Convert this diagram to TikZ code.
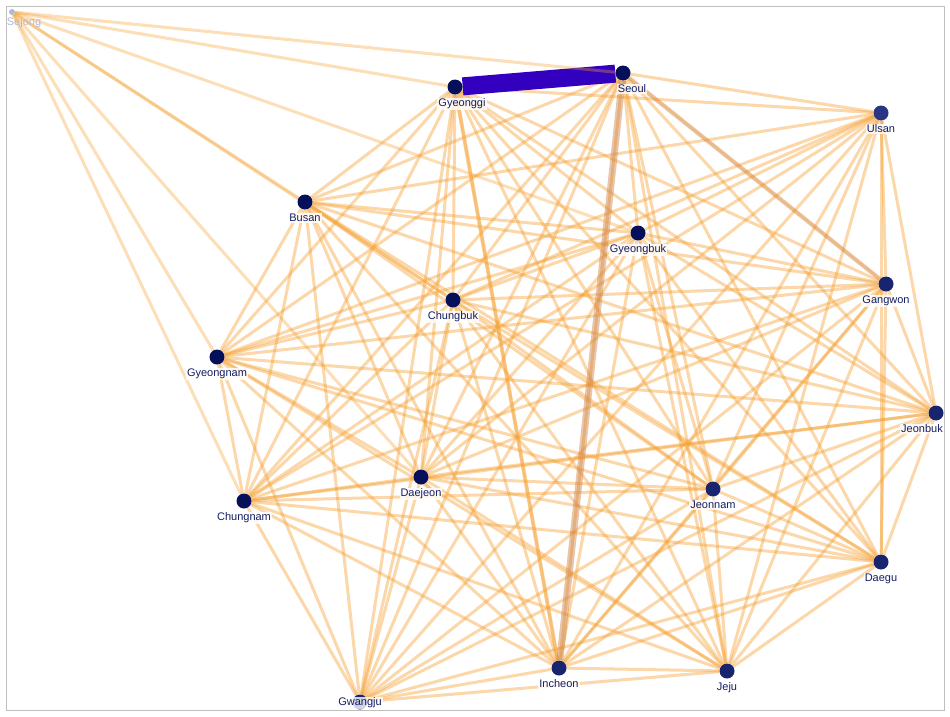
\documentclass[tikz,border=0pt]{standalone}
\usepackage{fontspec}
\setmainfont{Liberation Sans}
\usepackage{tikz}
\usetikzlibrary{backgrounds}
\definecolor{navy}{RGB}{6,16,90}
\definecolor{navymid}{RGB}{24,36,110}
\definecolor{navylight}{RGB}{42,54,130}
\definecolor{labelblue}{RGB}{20,30,100}
\definecolor{linkorange}{RGB}{245,160,50}
\definecolor{linktan}{RGB}{200,120,60}
\definecolor{linkblue}{RGB}{50,0,190}
\definecolor{sejonggray}{RGB}{180,185,210}
\newcommand{\regions}{gyeonggi,seoul,ulsan,busan,gyeongbuk,chungbuk,gangwon,gyeongnam,jeonbuk,daejeon,jeonnam,chungnam,daegu,incheon,jeju,gwangju}

\begin{document}
\begin{tikzpicture}[x=1pt,y=-1pt,
    main node/.style={circle,fill=navy,inner sep=0pt,minimum size=15pt},
    small node/.style={circle,fill=sejonggray,inner sep=0pt,minimum size=6pt},
    every label/.style={font=\fontsize{11}{13}\selectfont,text=labelblue,fill=white,fill opacity=0.8,text opacity=1,inner sep=1pt},
    label distance=3pt,
    link/.style={draw=linkorange,draw opacity=0.42,line width=3pt}]
  \useasboundingbox (0,0) rectangle (950,716);
  \draw[black!25] (6,6) rectangle (944,710);
  \node[small node] (sejong) at (12,12) {};
  \node[text=sejonggray,font=\fontsize{11}{13}\selectfont,inner sep=1pt] (sejonglbl) at (24,23) {Sejong};
  \node[main node,label={[xshift=7pt]below:Gyeonggi}] (gyeonggi) at (455,87) {};
  \node[main node,label={[xshift=9pt]below:Seoul}] (seoul) at (623,73) {};
  \node[main node,fill=navylight,label=below:Ulsan] (ulsan) at (881,113) {};
  \node[main node,label=below:Busan] (busan) at (305,202) {};
  \node[main node,label=below:Gyeongbuk] (gyeongbuk) at (638,233) {};
  \node[main node,label=below:Chungbuk] (chungbuk) at (453,300) {};
  \node[main node,fill=navymid,label=below:Gangwon] (gangwon) at (886,284) {};
  \node[main node,label=below:Gyeongnam] (gyeongnam) at (217,357) {};
  \node[main node,fill=navymid,label={[xshift=-14pt]below:Jeonbuk}] (jeonbuk) at (936,413) {};
  \node[main node,label=below:Daejeon] (daejeon) at (421,477) {};
  \node[main node,fill=navymid,label=below:Jeonnam] (jeonnam) at (713,489) {};
  \node[main node,label=below:Chungnam] (chungnam) at (244,501) {};
  \node[main node,fill=navymid,label=below:Daegu] (daegu) at (881,562) {};
  \node[main node,fill=navymid,label=below:Incheon] (incheon) at (559,668) {};
  \node[main node,fill=navymid,label=below:Jeju] (jeju) at (727,671) {};
  \node[main node,fill=navymid,label={[yshift=16pt]below:Gwangju}] (gwangju) at (360,702) {};
  \begin{scope}[on background layer]
    % every pair of regions
    \foreach \a [count=\i] in \regions {
      \foreach \b [count=\j] in \regions {
        \ifnum\j>\i \path[link] (\a) -- (\b); \fi
      }
    }
    \path[link,line width=4pt] (gyeonggi) -- (incheon);
    \path[link,draw=linktan,draw opacity=0.3,line width=4.5pt] (seoul) -- (gangwon);
    \path[link,draw=linktan,draw opacity=0.42,line width=7pt] (seoul) -- (incheon);
    \path[draw=linkblue,line width=18pt] (gyeonggi) -- (seoul);
    \foreach \b in {seoul,gyeonggi,gyeongbuk,busan,chungbuk,gyeongnam,chungnam,daejeon}
      \path[link,draw opacity=0.35] (sejong) -- (\b);
  \end{scope}
\end{tikzpicture}
\end{document}
